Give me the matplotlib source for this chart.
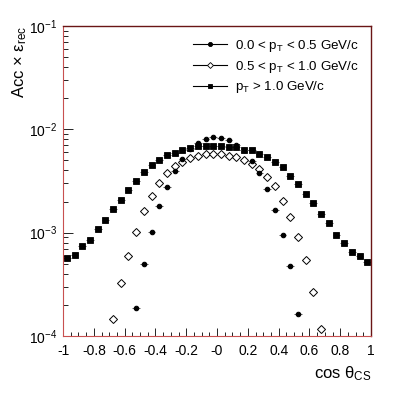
import matplotlib
matplotlib.use("Agg")
import matplotlib.pyplot as plt
from matplotlib.lines import Line2D
import numpy as np

plt.rcParams['font.family'] = ['Liberation Sans', 'DejaVu Sans']
plt.rcParams['mathtext.fontset'] = 'custom'
plt.rcParams['mathtext.rm'] = 'Liberation Sans'
plt.rcParams['mathtext.it'] = 'Liberation Sans:italic'

# pT > 1.0 GeV/c (filled squares)
x_high = [-0.975, -0.925, -0.875, -0.825, -0.775, -0.725, -0.675, -0.625, -0.575, -0.525,
          -0.475, -0.425, -0.375, -0.325, -0.275, -0.225, -0.175, -0.125, -0.075, -0.025,
          0.025, 0.075, 0.125, 0.175, 0.225, 0.275, 0.325, 0.375, 0.425, 0.475,
          0.525, 0.575, 0.625, 0.675, 0.725, 0.775, 0.825, 0.875, 0.925, 0.975]
y_high = [5.7e-4, 6.1e-4, 7.4e-4, 8.55e-4, 1.09e-3, 1.31e-3, 1.70e-3, 2.06e-3, 2.57e-3, 3.16e-3,
          3.84e-3, 4.49e-3, 5.05e-3, 5.65e-3, 5.95e-3, 6.36e-3, 6.56e-3, 6.95e-3, 6.9e-3, 6.9e-3,
          6.85e-3, 6.8e-3, 6.7e-3, 6.36e-3, 6.25e-3, 5.78e-3, 5.44e-3, 4.8e-3, 4.3e-3, 3.54e-3,
          2.96e-3, 2.35e-3, 1.95e-3, 1.51e-3, 1.23e-3, 9.5e-4, 7.9e-4, 6.55e-4, 5.95e-4, 5.16e-4]

# 0.0 < pT < 0.5 GeV/c (filled circles)
x_low = [-0.525, -0.475, -0.425, -0.375, -0.325, -0.275, -0.225, -0.175, -0.125, -0.075, -0.025,
         0.025, 0.075, 0.125, 0.175, 0.225, 0.275, 0.325, 0.375, 0.425, 0.475, 0.525]
y_low = [1.87e-4, 4.98e-4, 1.01e-3, 1.79e-3, 2.79e-3, 3.96e-3, 5.17e-3, 6.4e-3, 7.3e-3, 8.07e-3, 8.38e-3,
         8.3e-3, 7.95e-3, 7.1e-3, 6.3e-3, 4.96e-3, 3.81e-3, 2.65e-3, 1.66e-3, 9.44e-4, 4.73e-4, 1.62e-4]

# 0.5 < pT < 1.0 GeV/c (open diamonds)
x_mid = [-0.675, -0.625, -0.575, -0.525, -0.475, -0.425, -0.375, -0.325, -0.275, -0.225, -0.175,
         -0.125, -0.075, -0.025, 0.025, 0.075, 0.125, 0.175, 0.225, 0.275, 0.325, 0.375,
         0.425, 0.475, 0.525, 0.575, 0.625, 0.675]
y_mid = [1.47e-4, 3.28e-4, 5.95e-4, 1.01e-3, 1.61e-3, 2.27e-3, 3.0e-3, 3.76e-3, 4.42e-3, 4.83e-3, 5.25e-3,
         5.53e-3, 5.74e-3, 5.74e-3, 5.74e-3, 5.56e-3, 5.37e-3, 5.06e-3, 4.62e-3, 4.14e-3, 3.48e-3, 2.83e-3,
         2.04e-3, 1.42e-3, 9.1e-4, 5.44e-4, 2.67e-4, 1.18e-4]

bin_half = 0.025
labels = [r"0.0 < p$_{\mathrm{T}}$ < 0.5 GeV/c",
          r"0.5 < p$_{\mathrm{T}}$ < 1.0 GeV/c",
          r"p$_{\mathrm{T}}$ > 1.0 GeV/c"]
xticks = [-1, -0.8, -0.6, -0.4, -0.2, 0, 0.2, 0.4, 0.6, 0.8, 1]
xticklabels = ["-1", "-0.8", "-0.6", "-0.4", "-0.2", "-0", "0.2", "0.4", "0.6", "0.8", "1"]

fig = plt.figure(figsize=(3.99, 3.99), dpi=100)
ax = fig.add_axes([0.158, 0.158, 0.772, 0.777])

ax.errorbar(x_low, y_low, xerr=bin_half, fmt='o', color='black', ms=3.2, mew=0.8,
            elinewidth=0.6, ecolor='#444444', capsize=0, zorder=4)
ax.errorbar(x_mid, y_mid, xerr=bin_half, fmt='D', color='black', mfc='white', ms=3.6, mew=0.7,
            elinewidth=0.6, ecolor='#444444', capsize=0, zorder=3)
ax.errorbar(x_high, y_high, xerr=bin_half, fmt='s', color='black', ms=4.0, mew=0.6,
            elinewidth=0.6, ecolor='#444444', capsize=0, zorder=2)

ax.set_yscale('log')
ax.set_xlim(-1, 1)
ax.set_ylim(1e-4, 1e-1)
ax.set_xticks(xticks)
ax.set_xticklabels(xticklabels)
ax.xaxis.set_minor_locator(matplotlib.ticker.MultipleLocator(0.05))
ax.tick_params(axis='both', which='both', direction='in', top=False, right=False,
               labelsize=10, color='black')
ax.tick_params(axis='x', which='major', length=6, width=0.6, pad=6)
ax.tick_params(axis='x', which='minor', length=3, width=0.6)
ax.tick_params(axis='y', which='major', length=7, width=0.6, pad=4)
ax.tick_params(axis='y', which='minor', length=3.5, width=0.6)

for s in ['top', 'right']:
    ax.spines[s].set_color('#6a1515')
    ax.spines[s].set_linewidth(1.0)
for s in ['left', 'bottom']:
    ax.spines[s].set_color('#c85050')
    ax.spines[s].set_linewidth(0.8)

ax.set_xlabel("cos θ$_{\\mathrm{CS}}$", fontsize=12, loc='right')
ax.xaxis.set_label_coords(1.0, -0.09)
ax.set_ylabel("Acc × ε$_{\\mathrm{rec}}$", fontsize=12, loc='top', labelpad=0)

handles = [
    Line2D([], [], color='black', lw=0.8, marker='o', ms=3, mew=0.6),
    Line2D([], [], color='black', lw=0.8, marker='D', ms=3, mfc='white', mew=0.6),
    Line2D([], [], color='black', lw=0.8, marker='s', ms=3.5, mew=0.6),
]
leg = ax.legend(handles, labels, loc='upper right', frameon=False, fontsize=9.6, handlelength=2.6,
                handletextpad=0.6, labelspacing=0.35, bbox_to_anchor=(1.0, 1.0))

fig.savefig("out.png", dpi=100)
